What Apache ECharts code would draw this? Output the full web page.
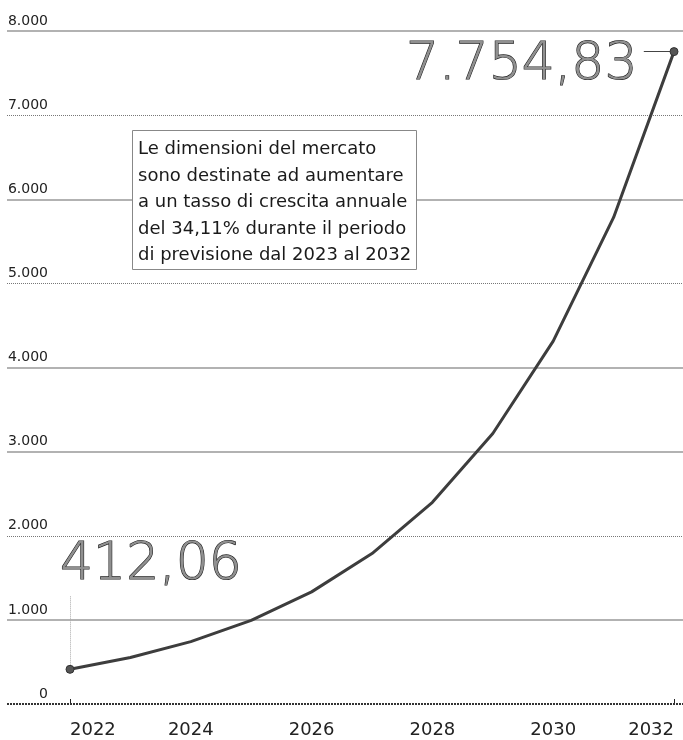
<!DOCTYPE html>
<html><head><meta charset="utf-8">
<script src="https://cdn.jsdelivr.net/npm/echarts@6/dist/echarts.min.js"></script>
<style>html,body{margin:0;padding:0;background:#fff}#c{width:683px;height:740px}</style>
</head><body><div id="c"></div>
<script>
// ---- data ----
const years = [2022, 2023, 2024, 2025, 2026, 2027, 2028, 2029, 2030, 2031, 2032];
const marketValues = [412.06, 553, 741, 994, 1333, 1788, 2398, 3216, 4313, 5784, 7754.83];
const yTicks = [0, 1000, 2000, 3000, 4000, 5000, 6000, 7000, 8000];
const xTickLabels = [2022, 2024, 2026, 2028, 2030, 2032];
const noteLines = [
  'Le dimensioni del mercato',
  'sono destinate ad aumentare',
  'a un tasso di crescita annuale',
  'del 34,11% durante il periodo',
  'di previsione dal 2023 al 2032'
];
const dottedGridValues = [2000, 5000, 7000];

// ---- helpers ----
function fmtIt(v, dec) {
  const parts = Number(v).toFixed(dec).split('.');
  const i = parts[0].replace(/\B(?=(\d{3})+(?!\d))/g, '.');
  return parts[1] ? i + ',' + parts[1] : i;
}
const last = years.length - 1;
const bigLabel = {
  show: true,
  fontSize: 52,
  fontFamily: 'DejaVu Sans',
  fontWeight: 200,
  color: '#909090',
  textBorderColor: '#222',
  textBorderWidth: 1.2
};

const gridLineStyle = v => {
  if (v === 0) return { color: '#333', width: 2, type: [2, 1] };
  if (dottedGridValues.indexOf(v) >= 0) return { color: '#777', width: 1, type: [1, 1] };
  return { color: '#999', width: 1.5, type: 'solid' };
};

const lineData = years.map((y, i) => {
  const item = { value: [y, marketValues[i]] };
  if (i === 0) {
    item.label = Object.assign({}, bigLabel, {
      position: 'top', align: 'left', verticalAlign: 'bottom',
      offset: [-10, -68], formatter: fmtIt(marketValues[i], 2)
    });
  } else if (i === last) {
    item.label = Object.assign({}, bigLabel, {
      position: 'left', align: 'right', verticalAlign: 'middle',
      offset: [-27, 14], formatter: fmtIt(marketValues[i], 2)
    });
  }
  return item;
});

const chart = echarts.init(document.getElementById('c'), null, { renderer: 'canvas' });
chart.setOption({
  animation: false,
  backgroundColor: '#fff',
  title: {
    text: noteLines.join('\n'),
    left: 132, top: 130,
    padding: [6, 6, 1, 6],
    borderColor: '#888', borderWidth: 1,
    backgroundColor: '#fff',
    z: 10,
    textStyle: { fontSize: 18, lineHeight: 26.6, fontFamily: 'DejaVu Sans', fontWeight: 'normal', color: '#1a1a1a' }
  },
  grid: [
    { left: 7, right: 0, top: 31, bottom: 36 },
    { left: 70, right: 9, top: 31, bottom: 36 }
  ],
  xAxis: [
    { gridIndex: 0, type: 'value', min: 0, max: 1, show: false },
    {
      gridIndex: 1, type: 'value', min: 2022, max: 2032, interval: 2,
      axisLine: { show: false },
      splitLine: { show: false },
      axisTick: { show: true, inside: true, length: 5, customValues: [years[0], years[last]], lineStyle: { color: '#222', width: 1 } },
      axisLabel: {
        customValues: xTickLabels,
        margin: 17, fontSize: 18, color: '#222', fontFamily: 'DejaVu Sans',
        alignMinLabel: 'left', alignMaxLabel: 'right',
        formatter: v => String(v)
      }
    }
  ],
  yAxis: [
    {
      gridIndex: 0, type: 'value', min: 0, max: 8000, interval: 1000,
      axisLine: { show: false }, axisTick: { show: false }, splitLine: { show: false },
      axisLabel: {
        inside: true, margin: 41, align: 'right', verticalAlign: 'bottom',
        padding: [0, 0, 3, 0],
        fontSize: 14, color: '#222', fontFamily: 'DejaVu Sans',
        formatter: v => fmtIt(v, 0)
      }
    },
    { gridIndex: 1, type: 'value', min: 0, max: 8000, show: false }
  ],
  series: [
    {
      type: 'line', xAxisIndex: 0, yAxisIndex: 0, data: [], silent: true,
      markLine: {
        silent: true, symbol: 'none', label: { show: false }, animation: false,
        data: yTicks.map(v => ({ yAxis: v, lineStyle: gridLineStyle(v) }))
      }
    },
    {
      type: 'line', xAxisIndex: 1, yAxisIndex: 1, z: 5,
      data: lineData,
      lineStyle: { color: '#3d3d3d', width: 3 },
      itemStyle: { color: '#555', borderColor: '#333', borderWidth: 1 },
      symbol: 'circle',
      symbolSize: (val, p) => (p.dataIndex === 0 || p.dataIndex === last) ? 8 : 0,
      showAllSymbol: true,
      markLine: {
        silent: true, symbol: 'none', label: { show: false }, animation: false,
        data: [
          [{ coord: [years[0], marketValues[0]], lineStyle: { color: '#aaa', width: 1, type: [1, 1] } },
           { coord: [years[0], marketValues[0] + 880] }],
          [{ coord: [years[last], marketValues[last]], lineStyle: { color: '#444', width: 1, type: 'solid' } },
           { coord: [years[last] - 0.5, marketValues[last]] }]
        ]
      }
    }
  ]
});
</script>
</body></html>
